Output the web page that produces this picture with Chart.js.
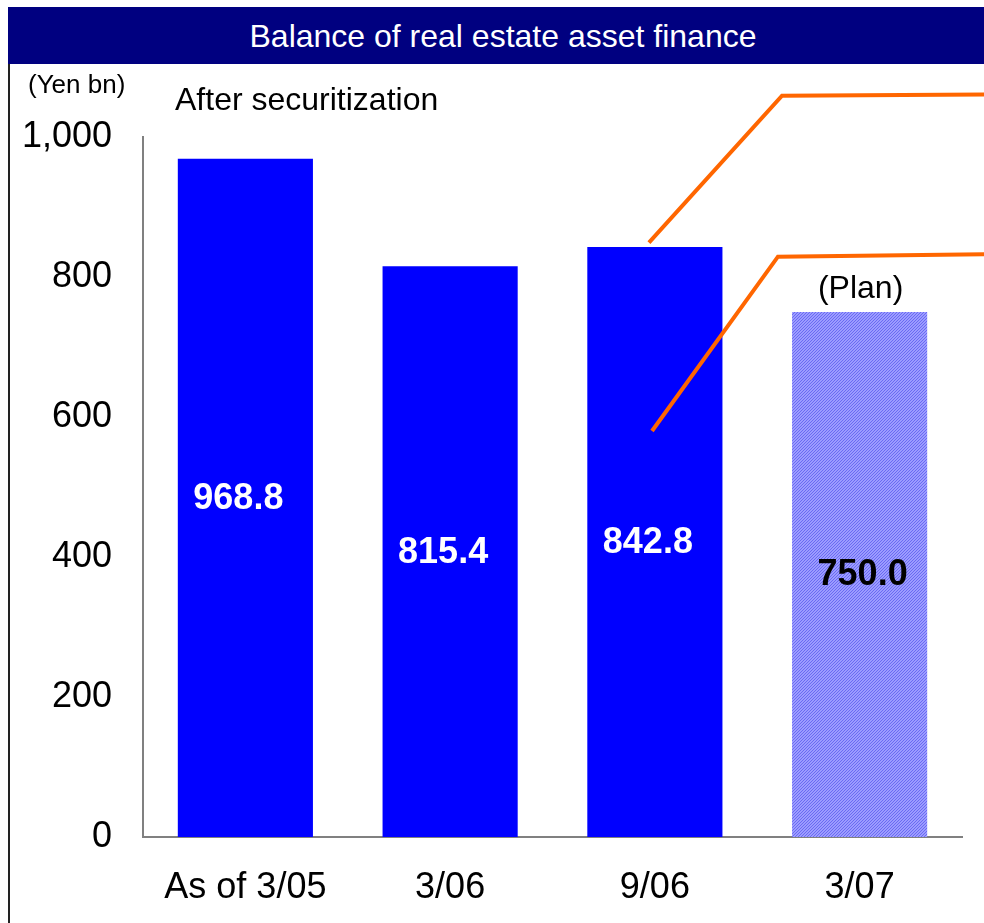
<!DOCTYPE html>
<html lang="en">
<head>
  <meta charset="UTF-8">
  <title>Balance of real estate asset finance</title>
  <script src="https://cdn.jsdelivr.net/npm/chart.js"></script>
  <style>
    body {
      margin: 0;
      width: 984px;
      height: 923px;
      overflow: hidden;
      background: #fff;
      font-family: "Liberation Sans", Arial, sans-serif;
      position: relative;
    }
    #chart {
      position: absolute;
      left: 0;
      top: 0;
    }
    .header {
      position: absolute;
      left: 8px;
      top: 7px;
      width: 990px;
      height: 57px;
      line-height: 57px;
      padding-top: 1px;
      box-sizing: border-box;
      background: #000080;
      color: #fff;
      font-size: 32px;
      text-align: center;
      z-index: 2;
    }
    .frame-left {
      position: absolute;
      left: 8px;
      top: 64px;
      width: 2px;
      height: 859px;
      background: #222;
      z-index: 2;
    }
    .note {
      position: absolute;
      line-height: 1;
      white-space: nowrap;
      color: #000;
      z-index: 2;
    }
  </style>
</head>
<body>

  <div class="header">Balance of real estate asset finance</div>
  <div class="frame-left"></div>
  <div class="note" style="left:28px; top:71px; font-size:26px;">(Yen bn)</div>
  <div class="note" style="left:175px; top:83px; font-size:32px;">After securitization</div>

  <canvas id="chart" width="984" height="923"></canvas>

  <script>
    const categories = ['As of 3/05', '3/06', '9/06', '3/07'];
    const balances = [968.8, 815.4, 842.8, 750.0];
    const planFlags = [false, false, false, true];
    const yTicks = [0, 200, 400, 600, 800, 1000];

    const FONT = '"Liberation Sans", Arial, sans-serif';

    // fine diagonal hatch used for the planned figure
    function hatchPattern() {
      const c = document.createElement('canvas');
      c.width = 3;
      c.height = 3;
      const g = c.getContext('2d');
      g.fillStyle = '#9c9cff';
      g.fillRect(0, 0, 3, 3);
      g.fillStyle = '#6a6af2';
      g.fillRect(0, 2, 1, 1);
      g.fillRect(1, 1, 1, 1);
      g.fillRect(2, 0, 1, 1);
      return g.createPattern(c, 'repeat');
    }

    const ctx = document.getElementById('chart').getContext('2d');
    const hatch = hatchPattern();

    // orange leader lines leaving the 9/06 bar, in (category position, value) units
    const leaders = [
      [[1.971, 849], [2.621, 1059], [3.8, 1061]],
      [[1.986, 580], [2.601, 829], [3.8, 833]]
    ];

    const barLabels = {
      id: 'barLabels',
      afterDatasetsDraw(chart) {
        const c = chart.ctx;
        const meta = chart.getDatasetMeta(0);
        c.save();
        c.textAlign = 'center';
        meta.data.forEach((bar, i) => {
          const plan = planFlags[i];
          c.font = 'bold 36px ' + FONT;
          c.textBaseline = 'middle';
          c.fillStyle = plan ? '#000' : '#fff';
          c.fillText(balances[i].toFixed(1), bar.x + (plan ? 3 : -7), (bar.y + bar.base) / 2 + 1);
          if (plan) {
            c.font = '32px ' + FONT;
            c.textBaseline = 'alphabetic';
            c.fillStyle = '#000';
            c.fillText('(Plan)', bar.x + 1, bar.y - 14);
          }
        });

        const xs = chart.scales.x;
        const ys = chart.scales.y;
        const step = xs.getPixelForValue(1) - xs.getPixelForValue(0);
        c.strokeStyle = '#ff6600';
        c.lineWidth = 4;
        c.lineJoin = 'miter';
        leaders.forEach(line => {
          c.beginPath();
          line.forEach(([pos, val], k) => {
            const px = xs.getPixelForValue(0) + pos * step;
            const py = ys.getPixelForValue(val);
            if (k === 0) c.moveTo(px, py); else c.lineTo(px, py);
          });
          c.stroke();
        });
        c.restore();
      }
    };

    Chart.defaults.font.family = FONT;
    Chart.defaults.color = '#000';

    const chart = new Chart(ctx, {
      type: 'bar',
      data: {
        labels: categories,
        datasets: [{
          data: balances,
          backgroundColor: planFlags.map(p => p ? hatch : '#0000ff'),
          borderWidth: 0,
          barPercentage: 0.66,
          categoryPercentage: 1
        }]
      },
      options: {
        responsive: false,
        animation: false,
        events: [],
        layout: {
          padding: { top: 137, right: 22, left: 0, bottom: 0 }
        },
        plugins: {
          legend: { display: false },
          tooltip: { enabled: false }
        },
        scales: {
          x: {
            grid: { display: false, drawTicks: false },
            border: { display: true, color: '#808080', width: 2 },
            ticks: {
              font: { size: 36 },
              padding: 29,
              maxRotation: 0,
              autoSkip: false
            },
            afterFit(scale) {
              scale.height = 86;
            }
          },
          y: {
            min: 0,
            max: 1000,
            grid: { display: false, drawTicks: false },
            border: { display: true, color: '#808080', width: 2 },
            ticks: {
              font: { size: 36 },
              padding: 31,
              callback: v => v.toLocaleString('en-US')
            },
            afterBuildTicks(scale) {
              scale.ticks = yTicks.map(v => ({ value: v }));
            },
            afterFit(scale) {
              scale.width = 143;
            }
          }
        }
      },
      plugins: [barLabels]
    });
  </script>
</body>
</html>
